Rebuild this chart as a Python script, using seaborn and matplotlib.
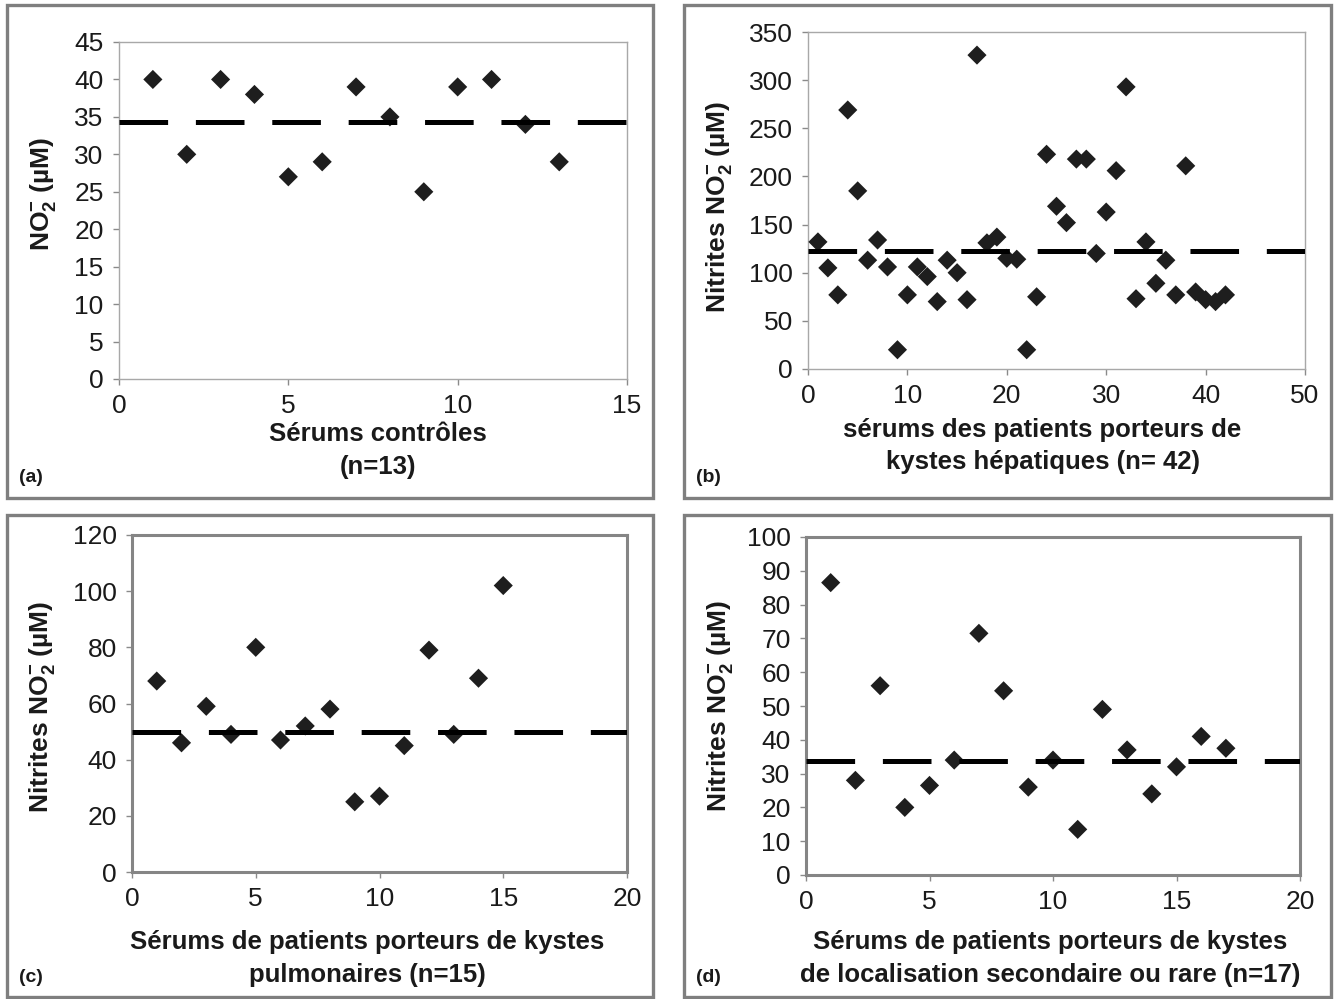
import matplotlib
matplotlib.use("Agg")
import matplotlib.pyplot as plt
import matplotlib.patches as patches
import pandas as pd
import seaborn as sns

# (a) control sera
x_a = list(range(1, 14))
y_a = [40, 30, 40, 38, 27, 29, 39, 35, 25, 39, 40, 34, 29]
mean_a = 34.3

# (b) hepatic cysts
x_b = list(range(1, 43))
y_b = [132, 105, 77, 269, 185, 113, 134, 106, 20, 77,
       106, 96, 70, 113, 100, 72, 326, 131, 137, 115,
       114, 20, 75, 223, 169, 152, 218, 218, 120, 163,
       206, 293, 73, 132, 89, 113, 77, 211, 80, 72,
       70, 77]
mean_b = 123

# (c) pulmonary cysts
x_c = list(range(1, 16))
y_c = [68, 46, 59, 49, 80, 47, 52, 58, 25, 27, 45, 79, 49, 69, 102]
mean_c = 50

# (d) secondary / rare localisation
x_d = list(range(1, 18))
y_d = [86.5, 28, 56, 20, 26.5, 34, 71.5, 54.5, 26, 34, 13.5, 49, 37, 24, 32, 41, 37.5]
mean_d = 33.6

sns.set_theme(style="white")
plt.rcParams['font.family'] = ['Liberation Sans', 'DejaVu Sans']
plt.rcParams['mathtext.fontset'] = 'custom'
plt.rcParams['mathtext.rm'] = 'Liberation Sans:bold'
plt.rcParams['mathtext.bf'] = 'Liberation Sans:bold'
plt.rcParams['lines.scale_dashes'] = False

W, H = 1336, 999
fig = plt.figure(figsize=(W / 100, H / 100), dpi=100)

ylab_no2 = r'NO$_{2}^{-}$ (µM)'
ylab_nit = r'Nitrites NO$_{2}^{-}$ (µM)'

panels = [
    # frame box, plot box (left, top, right, bottom) in px
    dict(x=x_a, y=y_a, mean=mean_a, frame=(7, 5, 653, 498), box=(119, 42, 627, 379),
         xlim=(0, 15), xstep=5, ylim=(0, 45), ystep=5, ylabel=ylab_no2,
         xlabel='Sérums contrôles\n(n=13)', letter='(a)', heavy=False,
         ylc=(-0.118, 0.55), xlc=(0.51, -0.128)),
    dict(x=x_b, y=y_b, mean=mean_b, frame=(684, 5, 1331, 498), box=(808, 32, 1305, 369),
         xlim=(0, 50), xstep=10, ylim=(0, 350), ystep=50, ylabel=ylab_nit,
         xlabel='sérums des patients porteurs de\nkystes hépatiques (n= 42)', letter='(b)',
         heavy=False, ylc=(-0.147, 0.48), xlc=(0.472, -0.145)),
    dict(x=x_c, y=y_c, mean=mean_c, frame=(7, 515, 653, 997), box=(132, 535, 627, 872),
         xlim=(0, 20), xstep=5, ylim=(0, 120), ystep=20, ylabel=ylab_nit,
         xlabel='Sérums de patients porteurs de kystes\npulmonaires (n=15)', letter='(c)',
         heavy=True, ylc=(-0.15, 0.49), xlc=(0.475, -0.172)),
    dict(x=x_d, y=y_d, mean=mean_d, frame=(684, 515, 1331, 997), box=(806, 537, 1300, 875),
         xlim=(0, 20), xstep=5, ylim=(0, 100), ystep=10, ylabel=ylab_nit,
         xlabel='Sérums de patients porteurs de kystes\nde localisation secondaire ou rare (n=17)',
         letter='(d)', heavy=True, ylc=(-0.142, 0.5), xlc=(0.495, -0.163)),
]

for p in panels:
    fl, ft, fr, fb = p['frame']
    fig.patches.append(patches.Rectangle((fl / W, 1 - fb / H), (fr - fl) / W, (fb - ft) / H,
                                         transform=fig.transFigure, fill=False,
                                         edgecolor='#7f7f7f', linewidth=2.4))
    l, t, r, b = p['box']
    ax = fig.add_axes([l / W, 1 - b / H, (r - l) / W, (b - t) / H])
    df = pd.DataFrame({'x': p['x'], 'y': p['y']})
    sns.scatterplot(data=df, x='x', y='y', marker='D', s=95, color='#1e1e1e',
                    edgecolor='none', ax=ax, zorder=3)
    ax.axhline(p['mean'], color='black', linewidth=3.6,
               linestyle=(0, (35, 20)), zorder=4)

    ax.set_xlim(*p['xlim'])
    ax.set_ylim(*p['ylim'])
    ax.set_xticks(range(p['xlim'][0], p['xlim'][1] + 1, p['xstep']))
    ax.set_yticks(range(p['ylim'][0], p['ylim'][1] + 1, p['ystep']))
    ax.tick_params(axis='both', direction='out', length=4, width=1, color='#8a8a8a',
                   labelsize=19, labelcolor='#1a1a1a', left=True, bottom=True)
    ax.tick_params(axis='x', pad=7)
    ax.tick_params(axis='y', pad=7)

    for sp in ax.spines.values():
        sp.set_visible(True)
        if p['heavy']:
            sp.set_color('#858585')
            sp.set_linewidth(2.2)
        else:
            sp.set_color('#a8a8a8')
            sp.set_linewidth(1.0)

    ax.set_ylabel(p['ylabel'], fontsize=19, fontweight='bold', color='#1a1a1a')
    ax.yaxis.set_label_coords(*p['ylc'])
    ax.set_xlabel(p['xlabel'], fontsize=18.5, fontweight='bold', color='#1a1a1a',
                  linespacing=1.45)
    ax.xaxis.set_label_coords(*p['xlc'])
    ax.xaxis.label.set_va('top')

    fig.text((fl + 12) / W, 1 - (fb - 20) / H, p['letter'], fontsize=14,
             fontweight='bold', color='#1a1a1a', va='center', ha='left')

fig.savefig('out.png', dpi=100)
